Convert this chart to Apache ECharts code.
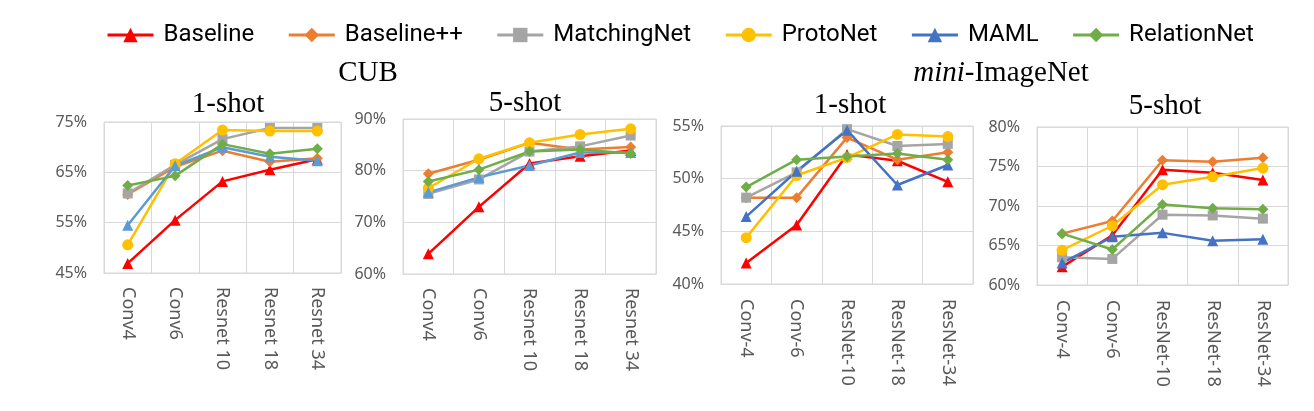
<!DOCTYPE html>
<html>
<head>
<meta charset="utf-8">
<script src="https://cdn.jsdelivr.net/npm/echarts@6/dist/echarts.min.js"></script>
<style>
    html, body { margin: 0; padding: 0; background: #fff; }
    .chart { width: 1314px; height: 411px; }
</style>
</head>
<body>
<div class="chart"></div>
<script>
// 方法名 / 骨干网络
var methods = ['Baseline', 'Baseline++', 'MatchingNet', 'ProtoNet', 'MAML', 'RelationNet'];
var cubBackbones = ['Conv4', 'Conv6', 'Resnet 10', 'Resnet 18', 'Resnet 34'];
var miniBackbones = ['Conv-4', 'Conv-6', 'ResNet-10', 'ResNet-18', 'ResNet-34'];

// 每行对应 methods 里的一个方法
var cub1shot = [
    [46.9, 55.5, 63.2, 65.5, 67.6],
    [60.6, 66.1, 69.3, 67.1, 67.8],
    [60.8, 66.5, 71.6, 73.8, 73.8],
    [50.6, 66.7, 73.4, 73.2, 73.2],
    [54.5, 66.3, 70.0, 68.1, 67.3],
    [62.4, 64.3, 70.6, 68.7, 69.7]
];
var cub5shot = [
    [63.9, 73.0, 81.4, 82.8, 83.9],
    [79.4, 82.1, 85.4, 84.1, 84.6],
    [75.5, 78.3, 83.7, 84.7, 86.8],
    [76.6, 82.3, 85.4, 87.0, 88.1],
    [75.8, 78.7, 81.0, 83.5, 83.5],
    [77.9, 80.2, 83.7, 84.1, 83.3]
];
var mini1shot = [
    [42.0, 45.6, 52.3, 51.7, 49.7],
    [48.2, 48.2, 53.9, 51.8, 52.5],
    [48.2, 50.6, 54.7, 53.1, 53.3],
    [44.4, 50.3, 52.0, 54.2, 54.0],
    [46.4, 50.7, 54.6, 49.4, 51.3],
    [49.2, 51.8, 52.1, 52.4, 51.8]
];
var mini5shot = [
    [62.3, 66.3, 74.6, 74.2, 73.3],
    [66.5, 68.1, 75.8, 75.6, 76.1],
    [63.5, 63.3, 68.9, 68.8, 68.4],
    [64.4, 67.5, 72.7, 73.7, 74.8],
    [62.8, 66.1, 66.6, 65.6, 65.8],
    [66.5, 64.5, 70.2, 69.7, 69.6]
];

// y轴范围 [min, max, interval]
var cub1Range = [45, 75, 10];
var cub5Range = [60, 90, 10];
var mini1Range = [40, 55, 5];
var mini5Range = [60, 80, 5];

(function () {
    var myChart = echarts.init(document.querySelector('.chart'));

    var cubColors = ['#FF0000', '#ED7D31', '#A5A5A5', '#FFC000', '#5B9BD5', '#70AD47'];
    var miniColors = ['#FF0000', '#ED7D31', '#A5A5A5', '#FFC000', '#4472C4', '#70AD47'];
    var symbols = ['triangle', 'diamond', 'rect', 'circle', 'triangle', 'diamond'];
    var symbolSizes = [11, 11, 10, 11, 11, 11];

    var panels = [
        { data: cub1shot, cats: cubBackbones, range: cub1Range, colors: cubColors, margin: 14,
          grid: { left: 104, top: 122, width: 237, height: 151 } },
        { data: cub5shot, cats: cubBackbones, range: cub5Range, colors: cubColors, margin: 14,
          grid: { left: 403, top: 119, width: 253, height: 155 } },
        { data: mini1shot, cats: miniBackbones, range: mini1Range, colors: miniColors, margin: 15,
          grid: { left: 721, top: 126, width: 252, height: 158 } },
        { data: mini5shot, cats: miniBackbones, range: mini5Range, colors: miniColors, margin: 15,
          grid: { left: 1037, top: 127, width: 251, height: 158 } }
    ];

    var gridList = [], xList = [], yList = [], seriesList = [];
    var labelFont = 'Noto Sans';
    for (var p = 0; p < panels.length; p++) {
        var pn = panels[p];
        gridList.push({
            left: pn.grid.left,
            top: pn.grid.top,
            width: pn.grid.width,
            height: pn.grid.height,
            show: true,
            borderColor: '#D9D9D9',
            borderWidth: 1
        });
        xList.push({
            type: 'category',
            gridIndex: p,
            data: pn.cats,
            boundaryGap: true,
            axisTick: { show: false },
            axisLine: { lineStyle: { color: '#D9D9D9' } },
            splitLine: { show: true, lineStyle: { color: '#D9D9D9' } },
            axisLabel: {
                rotate: -90,
                interval: 0,
                margin: pn.margin,
                color: '#595959',
                fontSize: 18,
                fontFamily: labelFont
            }
        });
        yList.push({
            type: 'value',
            gridIndex: p,
            min: pn.range[0],
            max: pn.range[1],
            interval: pn.range[2],
            axisTick: { show: false },
            axisLine: { show: false },
            splitLine: { lineStyle: { color: '#D9D9D9' } },
            axisLabel: {
                formatter: '{value}%',
                margin: 17,
                color: '#595959',
                fontSize: 16,
                fontFamily: labelFont
            }
        });
        for (var m = 0; m < methods.length; m++) {
            seriesList.push({
                name: methods[m],
                type: 'line',
                xAxisIndex: p,
                yAxisIndex: p,
                data: pn.data[m],
                symbol: symbols[m],
                symbolSize: symbolSizes[m],
                color: pn.colors[m],
                lineStyle: { width: 2.5, color: pn.colors[m] },
                itemStyle: { color: pn.colors[m] },
                emphasis: { disabled: true },
                animation: false
            });
        }
    }

    var legendData = [];
    for (var k = 0; k < methods.length; k++) {
        legendData.push({
            name: methods[k],
            itemStyle: { color: miniColors[k] },
            lineStyle: { color: miniColors[k], width: 3 }
        });
    }

    var titleFont = 'Liberation Serif';
    function titleText(x, y, text) {
        return {
            type: 'text',
            x: x,
            y: y,
            style: {
                text: text,
                fontSize: 29,
                fontFamily: titleFont,
                fill: '#000',
                align: 'center',
                verticalAlign: 'middle',
                textAlign: 'center',
                textVerticalAlign: 'middle',
                rich: {
                    i: { fontStyle: 'italic', fontSize: 29, fontFamily: titleFont, fill: '#000' }
                }
            }
        };
    }

    var option = {
        backgroundColor: '#fff',
        animation: false,
        legend: {
            top: 18,
            left: 101,
            itemWidth: 46,
            itemHeight: 18,
            itemGap: 33,
            textStyle: {
                fontFamily: 'Roboto',
                fontSize: 24,
                color: '#000',
                padding: [0, 0, 0, 5]
            },
            data: legendData
        },
        graphic: [
            titleText(368, 73, 'CUB'),
            titleText(1001, 73, '{i|mini}-ImageNet'),
            titleText(228, 104, '1-shot'),
            titleText(525, 103, '5-shot'),
            titleText(850, 105, '1-shot'),
            titleText(1165, 106, '5-shot')
        ],
        grid: gridList,
        xAxis: xList,
        yAxis: yList,
        series: seriesList
    };
    myChart.setOption(option);
    window.addEventListener('resize', function () {
        myChart.resize();
    });
})();
</script>
</body>
</html>
